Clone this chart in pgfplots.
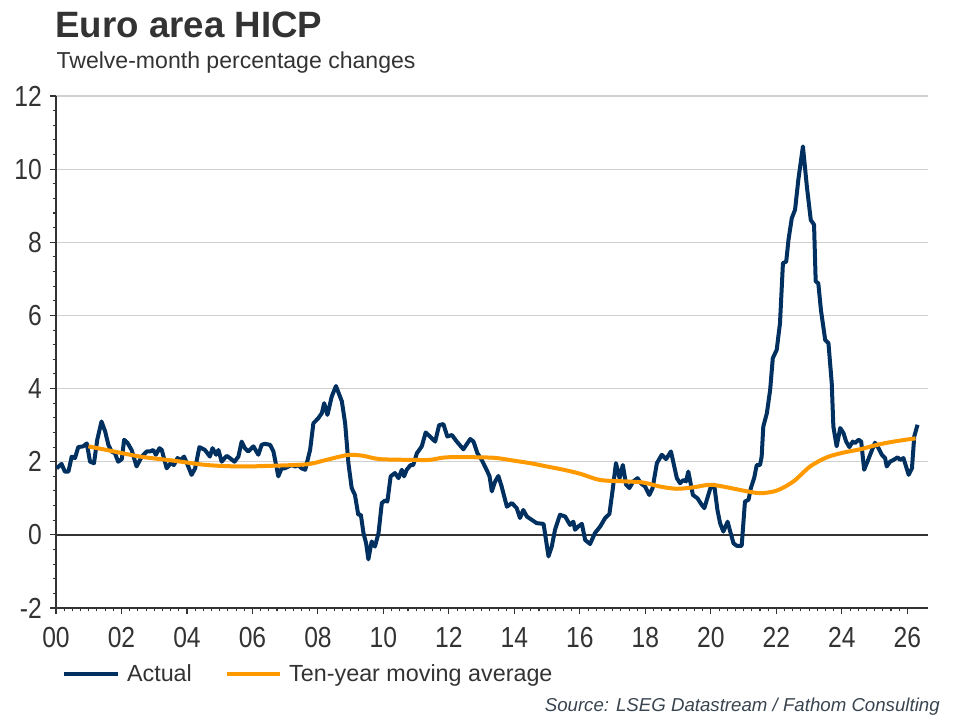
\documentclass[border=0pt]{standalone}
\usepackage{pgfplots}
\pgfplotsset{compat=1.18}
\usepackage{fontspec}
\setmainfont{Liberation Sans}
\newfontfamily\tickfont[FakeStretch=0.85]{Liberation Sans}
\definecolor{navy}{RGB}{0,48,96}
\definecolor{orng}{RGB}{255,153,0}
\definecolor{txt}{RGB}{51,51,51}
\definecolor{gridc}{RGB}{208,208,208}
\definecolor{srcc}{RGB}{56,68,80}
\begin{document}
\begin{tikzpicture}
\path[use as bounding box] (0,0) rectangle (720pt,540pt);
\begin{axis}[
  at={(42pt,84pt)}, anchor=south west,
  scale only axis, width=654pt, height=384pt,
  xmin=2000, xmax=2026.63, ymin=-2, ymax=12,
  axis lines=left, axis line style={-, draw=txt, line width=1pt},
  xtick={2000,2002,2004,2006,2008,2010,2012,2014,2016,2018,2020,2022,2024,2026},
  xticklabels={00,02,04,06,08,10,12,14,16,18,20,22,24,26},
  ytick={-2,0,2,4,6,8,10,12},
  yticklabels={-2,0,2,4,6,8,10,12},
  minor x tick num=7, minor y tick num=4,
  tick align=outside, major tick length=4.5pt, minor tick length=2.5pt,
  tick style={draw=txt, line width=0.8pt},
  ymajorgrids, major grid style={draw=gridc, line width=0.8pt},
  xticklabel style={font=\tickfont\fontsize{21.75}{24}\selectfont, text=txt, anchor=north, inner sep=0pt, yshift=-9.75pt},
  yticklabel style={font=\tickfont\fontsize{21.75}{24}\selectfont, text=txt, anchor=east, inner sep=0pt, xshift=-6pt},
  legend style={at={(axis description cs:0.007,-0.129)}, anchor=west, draw=none, fill=none,
    inner sep=0pt, font=\fontsize{17.5}{20}\selectfont, text=txt,
    nodes={inner sep=0pt},
    /tikz/every odd column/.append style={column sep=5.5pt},
    /tikz/every even column/.append style={column sep=24.5pt}},
  legend columns=2, legend cell align=left,
  legend image code/.code={\draw[#1] (0pt,0pt) -- (40pt,0pt);},
]
\draw[draw=txt, line width=1pt] (axis cs:2000,0) -- (axis cs:2026.63,0);
\addplot[navy, line width=3pt, line join=round] coordinates {
(2000.02,1.82)(2000.17,1.94)(2000.27,1.73)(2000.38,1.73)(2000.48,2.14)(2000.58,2.10)
(2000.68,2.40)(2000.83,2.42)(2000.94,2.50)(2001.04,2.00)(2001.16,1.96)(2001.26,2.60)
(2001.39,3.10)(2001.50,2.83)(2001.60,2.46)(2001.70,2.28)(2001.80,2.23)(2001.90,2.00)
(2002.01,2.07)(2002.08,2.60)(2002.18,2.52)(2002.31,2.32)(2002.46,1.87)(2002.62,2.14)
(2002.77,2.28)(2002.87,2.28)(2002.97,2.32)(2003.05,2.19)(2003.16,2.37)(2003.23,2.32)
(2003.38,1.82)(2003.50,1.96)(2003.60,1.91)(2003.71,2.10)(2003.81,2.05)(2003.91,2.14)
(2004.04,1.87)(2004.14,1.64)(2004.25,1.82)(2004.38,2.40)(2004.55,2.32)(2004.70,2.14)
(2004.78,2.37)(2004.89,2.19)(2004.96,2.32)(2005.06,2.00)(2005.21,2.16)(2005.31,2.10)
(2005.45,2.00)(2005.57,2.14)(2005.67,2.55)(2005.77,2.37)(2005.87,2.28)(2006.03,2.42)
(2006.18,2.19)(2006.28,2.46)(2006.38,2.49)(2006.54,2.46)(2006.64,2.28)(2006.79,1.60)
(2006.89,1.82)(2006.99,1.82)(2007.10,1.87)(2007.20,1.91)(2007.30,1.87)(2007.40,1.91)
(2007.50,1.82)(2007.61,1.78)(2007.76,2.32)(2007.86,3.05)(2008.01,3.19)(2008.12,3.33)
(2008.19,3.60)(2008.29,3.28)(2008.42,3.78)(2008.55,4.07)(2008.73,3.65)(2008.83,3.05)
(2008.93,1.96)(2009.03,1.28)(2009.13,1.09)(2009.23,0.55)(2009.31,0.55)(2009.39,0.05)
(2009.47,-0.23)(2009.54,-0.67)(2009.64,-0.18)(2009.74,-0.32)(2009.85,0.05)(2009.95,0.87)
(2010.05,0.94)(2010.12,0.91)(2010.22,1.60)(2010.35,1.69)(2010.46,1.55)(2010.56,1.78)
(2010.63,1.60)(2010.71,1.78)(2010.83,1.91)(2010.91,1.91)(2011.02,2.23)(2011.17,2.42)
(2011.29,2.80)(2011.42,2.69)(2011.58,2.55)(2011.70,3.00)(2011.83,3.03)(2011.95,2.69)
(2012.09,2.73)(2012.24,2.55)(2012.44,2.34)(2012.65,2.62)(2012.75,2.55)(2012.87,2.23)
(2013.00,2.05)(2013.15,1.78)(2013.24,1.60)(2013.31,1.19)(2013.41,1.46)(2013.51,1.61)
(2013.61,1.32)(2013.77,0.77)(2013.92,0.87)(2014.07,0.73)(2014.17,0.46)(2014.27,0.68)
(2014.38,0.50)(2014.53,0.41)(2014.68,0.32)(2014.89,0.30)(2015.04,-0.59)(2015.14,-0.32)
(2015.24,0.14)(2015.39,0.55)(2015.55,0.50)(2015.70,0.27)(2015.80,0.36)(2015.85,0.14)
(2015.95,0.23)(2016.06,0.30)(2016.16,-0.14)(2016.31,-0.25)(2016.46,0.05)(2016.62,0.23)
(2016.77,0.46)(2016.90,0.57)(2017.00,1.23)(2017.10,1.96)(2017.21,1.55)(2017.31,1.91)
(2017.41,1.37)(2017.51,1.28)(2017.63,1.46)(2017.76,1.55)(2017.86,1.41)(2017.99,1.32)
(2018.12,1.09)(2018.22,1.28)(2018.35,1.96)(2018.50,2.19)(2018.63,2.07)(2018.78,2.28)
(2018.96,1.55)(2019.06,1.41)(2019.16,1.50)(2019.24,1.46)(2019.31,1.73)(2019.45,1.09)
(2019.59,1.00)(2019.72,0.82)(2019.80,0.73)(2019.92,1.09)(2020.00,1.32)(2020.10,1.37)
(2020.20,0.68)(2020.28,0.32)(2020.38,0.09)(2020.51,0.36)(2020.59,0.09)(2020.69,-0.23)
(2020.79,-0.30)(2020.94,-0.30)(2021.04,0.91)(2021.15,0.96)(2021.22,1.28)(2021.32,1.55)
(2021.40,1.91)(2021.50,1.91)(2021.55,2.14)(2021.60,2.96)(2021.71,3.33)(2021.81,3.97)
(2021.89,4.83)(2022.01,5.06)(2022.11,5.79)(2022.20,7.43)(2022.30,7.47)(2022.37,8.07)
(2022.47,8.66)(2022.57,8.89)(2022.67,9.71)(2022.81,10.62)(2022.93,9.53)(2023.05,8.61)
(2023.15,8.48)(2023.20,6.93)(2023.28,6.88)(2023.36,6.15)(2023.49,5.33)(2023.59,5.24)
(2023.69,4.15)(2023.74,2.96)(2023.84,2.42)(2023.95,2.92)(2024.05,2.78)(2024.13,2.55)
(2024.23,2.40)(2024.33,2.55)(2024.40,2.51)(2024.51,2.60)(2024.59,2.55)(2024.68,1.78)
(2024.78,2.00)(2024.88,2.23)(2025.01,2.52)(2025.12,2.37)(2025.22,2.19)(2025.32,2.10)
(2025.37,1.87)(2025.47,2.00)(2025.58,2.05)(2025.70,2.12)(2025.78,2.05)(2025.88,2.10)
(2025.96,1.87)(2026.04,1.64)(2026.14,1.82)(2026.21,2.69)(2026.31,3.01)
};
\addlegendentry{Actual}
\addplot[orng, line width=3pt, line join=round, smooth] coordinates {
(2000.99,2.42)(2001.55,2.32)(2002.57,2.14)(2003.58,2.03)(2004.60,1.91)(2005.62,1.87)
(2006.64,1.89)(2007.66,1.93)(2008.17,2.03)(2008.67,2.14)(2008.98,2.19)(2009.39,2.16)
(2009.90,2.07)(2010.91,2.05)(2011.42,2.05)(2011.93,2.12)(2012.95,2.12)(2013.46,2.10)
(2013.97,2.03)(2014.48,1.96)(2014.99,1.87)(2015.50,1.78)(2016.01,1.67)(2016.62,1.50)
(2017.43,1.46)(2017.94,1.43)(2018.45,1.32)(2018.96,1.26)(2019.47,1.30)(2019.98,1.37)
(2020.49,1.30)(2020.99,1.21)(2021.50,1.14)(2022.01,1.21)(2022.52,1.46)(2023.03,1.87)
(2023.54,2.12)(2024.05,2.25)(2024.56,2.34)(2025.07,2.46)(2025.58,2.55)(2026.25,2.64)
};
\addlegendentry{Ten-year moving average}
\end{axis}
\node[anchor=base west, font=\bfseries\fontsize{27.5}{31}\selectfont, text=txt, inner sep=0pt] at (41.3pt,512pt) {Euro area HICP};
\node[anchor=base west, font=\fontsize{17.3}{20}\selectfont, text=txt, inner sep=0pt] at (42.2pt,488.8pt) {Twelve-month percentage changes};
\node[anchor=base east, font=\itshape\fontsize{14}{16}\selectfont, text=srcc, inner sep=0pt] at (705pt,6pt) {Source: LSEG Datastream / Fathom Consulting};
\end{tikzpicture}
\end{document}
